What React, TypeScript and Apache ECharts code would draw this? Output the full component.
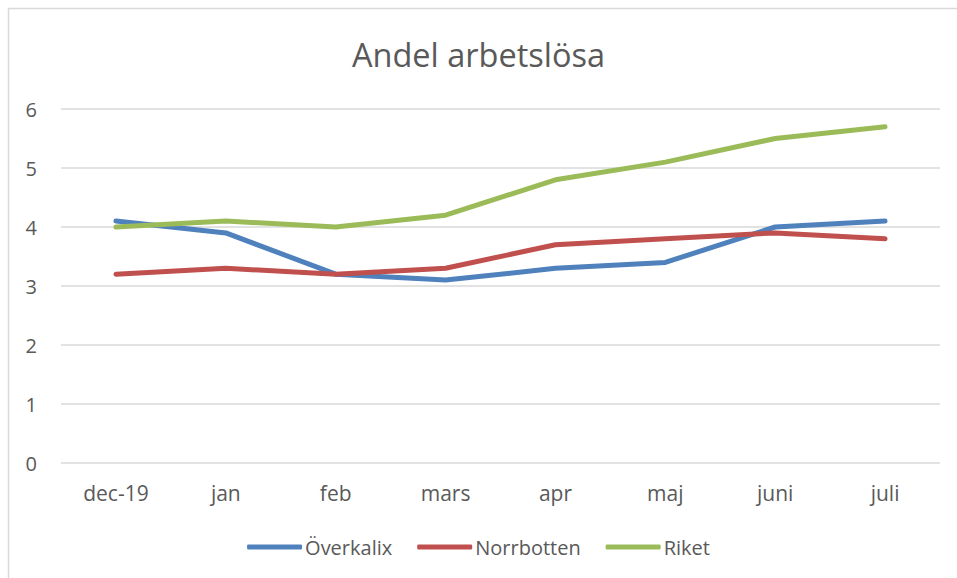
import React, { useEffect, useRef } from "react";
import * as echarts from "echarts";

const categories = ["dec-19", "jan", "feb", "mars", "apr", "maj", "juni", "juli"];
const overkalix = [4.1, 3.9, 3.2, 3.1, 3.3, 3.4, 4.0, 4.1];
const norrbotten = [3.2, 3.3, 3.2, 3.3, 3.7, 3.8, 3.9, 3.8];
const riket = [4.0, 4.1, 4.0, 4.2, 4.8, 5.1, 5.5, 5.7];
const seriesNames = ["Överkalix", "Norrbotten", "Riket"];
const colors = ["#4f81bd", "#c0504d", "#9bbb59"];

const FONT = "'Open Sans', 'Noto Sans', sans-serif";
const TEXT = "#595959";

export default function App() {
  const ref = useRef<HTMLDivElement>(null);
  useEffect(() => {
    if (!ref.current) return;
    const chart = echarts.init(ref.current, undefined, { renderer: "svg" });
    const values = [overkalix, norrbotten, riket];
    chart.setOption({
      animation: false,
      backgroundColor: "#ffffff",
      title: {
        text: "Andel arbetslösa",
        left: "center",
        top: 33,
        textStyle: { color: TEXT, fontFamily: FONT, fontSize: 32.5, fontWeight: "normal" },
      },
      graphic: [
        {
          type: "rect",
          shape: { x: 8.5, y: 8.5, width: 960, height: 600 },
          style: { fill: "none", stroke: "#d9d9d9", lineWidth: 1.5 },
          silent: true,
        },
      ],
      grid: { left: 61, right: 17, top: 109, bottom: 115, containLabel: false },
      xAxis: {
        type: "category",
        data: categories,
        boundaryGap: true,
        axisLine: { show: false },
        axisTick: { show: false },
        axisLabel: { color: TEXT, fontFamily: FONT, fontSize: 21, margin: 19 },
      },
      yAxis: {
        type: "value",
        min: 0,
        max: 6,
        interval: 1,
        axisLine: { show: false },
        axisTick: { show: false },
        splitLine: { lineStyle: { color: "#d9d9d9", width: 1.5 } },
        axisLabel: { color: TEXT, fontFamily: FONT, fontSize: 20, margin: 24 },
      },
      legend: {
        bottom: 16,
        left: "center",
        itemWidth: 55,
        itemHeight: 5,
        itemGap: 25,
        icon: "roundRect",
        textStyle: { color: TEXT, fontFamily: FONT, fontSize: 20, padding: [0, 0, 0, -2] },
        data: seriesNames,
      },
      series: seriesNames.map((name, i) => ({
        name,
        type: "line",
        data: values[i],
        showSymbol: false,
        symbol: "none",
        color: colors[i],
        lineStyle: { color: colors[i], width: 5, cap: "round", join: "round" },
      })),
    });
    return () => chart.dispose();
  }, []);
  return (
    <div
      ref={ref}
      style={{ position: "fixed", left: 0, top: 0, width: 957, height: 578 }}
    />
  );
}
